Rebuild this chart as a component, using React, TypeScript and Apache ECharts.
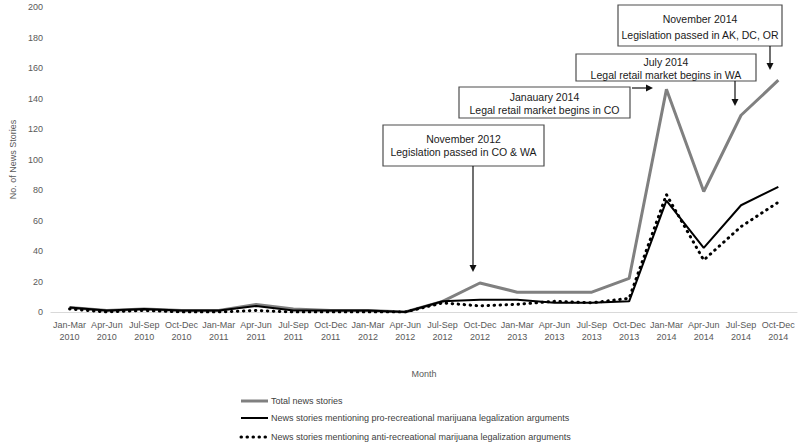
import React, { useEffect, useRef } from "react";
import * as echarts from "echarts";

const categories = [
  "Jan-Mar\n2010", "Apr-Jun\n2010", "Jul-Sep\n2010", "Oct-Dec\n2010",
  "Jan-Mar\n2011", "Apr-Jun\n2011", "Jul-Sep\n2011", "Oct-Dec\n2011",
  "Jan-Mar\n2012", "Apr-Jun\n2012", "Jul-Sep\n2012", "Oct-Dec\n2012",
  "Jan-Mar\n2013", "Apr-Jun\n2013", "Jul-Sep\n2013", "Oct-Dec\n2013",
  "Jan-Mar\n2014", "Apr-Jun\n2014", "Jul-Sep\n2014", "Oct-Dec\n2014",
];

const totalStories = [3, 1, 2, 1, 1, 5, 2, 1, 1, 0, 7, 19, 13, 13, 13, 22, 146, 79, 129, 152];
const proStories = [3, 1, 2, 1, 1, 4, 1, 1, 1, 0, 7, 8, 8, 6, 6, 7, 73, 42, 70, 82];
const antiStories = [2, 0, 1, 0, 0, 1, 0, 0, 0, 0, 6, 4, 5, 7, 6, 9, 77, 34, 56, 72];

const seriesNames = [
  "Total news stories",
  "News stories mentioning pro-recreational marijuana legalization arguments",
  "News stories mentioning anti-recreational marijuana legalization arguments",
];

const annotations = [
  ["November 2012", "Legislation passed in CO & WA"],
  ["Janauary 2014", "Legal retail market begins in CO"],
  ["July 2014", "Legal retail market begins in WA"],
  ["November 2014", "Legislation passed in AK, DC, OR"],
];

const FONT = "Liberation Sans, Arial, sans-serif";

function box(x: number, y: number, w: number, h: number, lines: string[], y1: number, y2: number) {
  const cx = x + w / 2;
  return [
    { type: "rect", shape: { x, y, width: w, height: h }, style: { fill: "#fff", stroke: "#4d4d4d", lineWidth: 1.2 } },
    { type: "text", style: { text: lines[0], x: cx, y: y1, align: "center", verticalAlign: "middle", font: `10.5px ${FONT}`, fill: "#1a1a1a" } },
    { type: "text", style: { text: lines[1], x: cx, y: y2, align: "center", verticalAlign: "middle", font: `10.5px ${FONT}`, fill: "#1a1a1a" } },
  ];
}

function downArrow(x: number, y0: number, y1: number) {
  return [
    { type: "line", shape: { x1: x, y1: y0, x2: x, y2: y1 - 6 }, style: { stroke: "#111", lineWidth: 1.2 } },
    { type: "polygon", shape: { points: [[x - 3.5, y1 - 7], [x + 3.5, y1 - 7], [x, y1]] }, style: { fill: "#111" } },
  ];
}

function rightArrow(x0: number, x1: number, y: number) {
  return [
    { type: "line", shape: { x1: x0, y1: y, x2: x1 - 6, y2: y }, style: { stroke: "#111", lineWidth: 1.2 } },
    { type: "polygon", shape: { points: [[x1 - 7, y - 3.5], [x1 - 7, y + 3.5], [x1, y]] }, style: { fill: "#111" } },
  ];
}

export default function App() {
  const ref = useRef<HTMLDivElement>(null);
  useEffect(() => {
    if (!ref.current) return;
    const chart = echarts.init(ref.current, undefined, { renderer: "svg" });
    const legendY = [401, 418, 437];
    const legendGraphics: any[] = [];
    const legendStyles = [
      { stroke: "#808080", lineWidth: 3 },
      { stroke: "#000", lineWidth: 2 },
      { stroke: "#000", lineWidth: 3, lineDash: [0.5, 5.5], lineCap: "round" },
    ];
    seriesNames.forEach((n, i) => {
      legendGraphics.push({
        type: "line",
        shape: { x1: 241, y1: legendY[i], x2: 268, y2: legendY[i] },
        style: legendStyles[i],
      });
      legendGraphics.push({
        type: "text",
        style: { text: n, x: 271, y: legendY[i], align: "left", verticalAlign: "middle", font: `9px ${FONT}`, fill: "#404040" },
      });
    });

    const option: any = {
      animation: false,
      backgroundColor: "#fff",
      grid: { left: 38, right: 3, top: 7, bottom: 130, containLabel: false },
      xAxis: {
        type: "category",
        data: categories,
        boundaryGap: true,
        name: "Month",
        nameLocation: "middle",
        nameGap: 57,
        nameTextStyle: { fontFamily: FONT, fontSize: 9, color: "#595959" },
        axisLine: { lineStyle: { color: "#d9d9d9", width: 1 } },
        axisTick: { show: false },
        axisLabel: { interval: 0, fontFamily: FONT, fontSize: 9, color: "#595959", lineHeight: 12, margin: 7 },
        splitLine: { show: false },
      },
      yAxis: {
        type: "value",
        min: 0,
        max: 200,
        interval: 20,
        name: "No. of News Stories",
        nameLocation: "middle",
        nameGap: 26,
        nameTextStyle: { fontFamily: FONT, fontSize: 9, color: "#595959" },
        axisLine: { show: false },
        axisTick: { show: false },
        splitLine: { show: false },
        axisLabel: { fontFamily: FONT, fontSize: 9, color: "#595959", margin: 8 },
      },
      series: [
        {
          name: seriesNames[0],
          type: "line",
          data: totalStories,
          symbol: "none",
          lineStyle: { color: "#808080", width: 3 },
          z: 2,
        },
        {
          name: seriesNames[1],
          type: "line",
          data: proStories,
          symbol: "none",
          lineStyle: { color: "#000", width: 2 },
          z: 3,
        },
        {
          name: seriesNames[2],
          type: "line",
          data: antiStories,
          symbol: "none",
          lineStyle: { color: "#000", width: 3, type: [0.5, 5.5], cap: "round" },
          z: 4,
        },
      ],
      graphic: [
        ...box(383, 125, 161, 41, annotations[0], 139, 152),
        ...downArrow(473, 166, 272),
        ...box(459, 87, 171, 31, annotations[1], 97, 110),
        ...rightArrow(632, 653, 88),
        ...box(576, 54, 180, 27, annotations[2], 62, 75),
        ...downArrow(735, 81, 106),
        ...box(618, 5, 164, 41, annotations[3], 19, 35),
        ...downArrow(770, 46, 70),
        ...legendGraphics,
      ],
    };
    chart.setOption(option);
    return () => chart.dispose();
  }, []);
  return <div ref={ref} style={{ position: "absolute", left: 0, top: 0, width: 800, height: 442 }} />;
}
